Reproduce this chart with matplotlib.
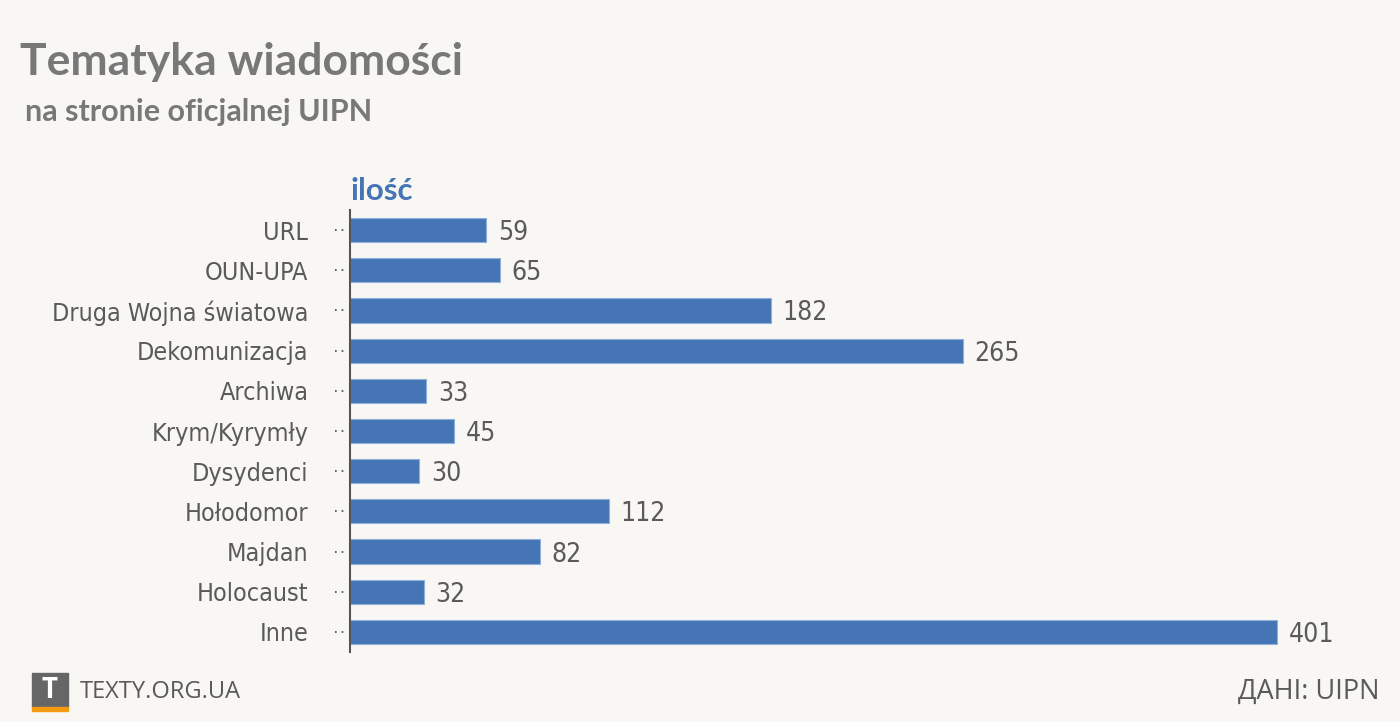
import matplotlib.pyplot as plt
from matplotlib.patches import Rectangle
from matplotlib import font_manager

categories = ['URL', 'OUN-UPA', 'Druga Wojna światowa', 'Dekomunizacja', 'Archiwa',
              'Krym/Kyrymły', 'Dysydenci', 'Hołodomor', 'Majdan', 'Holocaust', 'Inne']
values = [59, 65, 182, 265, 33, 45, 30, 112, 82, 32, 401]

bg = '#f8f7f4'
bar_color = '#4575b5'
text_grey = '#5a5a5a'

# condensed face for the category names and numbers
narrow_fp = font_manager.FontProperties(family='DejaVu Sans', stretch='condensed', size=18)

fig = plt.figure(figsize=(14, 7.22), dpi=100, facecolor=bg)

# title block
fig.text(20 / 1400, 1 - 62 / 722, 'Tematyka wiadomości', fontsize=32, fontweight='bold',
         color='#787878', family=['Lato', 'DejaVu Sans'], va='center', ha='left')
fig.text(25 / 1400, 1 - 112 / 722, 'na stronie oficjalnej UIPN', fontsize=22, fontweight='bold',
         color='#787878', family=['Lato', 'DejaVu Sans'], va='center', ha='left')

ax = fig.add_axes([350 / 1400, 70 / 722, 1030 / 1400, 442 / 722])
ax.set_facecolor(bg)
y = range(len(categories))
ax.barh(y, values, height=0.6, color=bar_color, edgecolor='#8fb0da', linewidth=0.8)
ax.set_xlim(0, 1030 / 2.312)
ax.set_ylim(len(categories) - 0.5, -0.5)

for i, v in enumerate(values):
    ax.text(v + 5, i, str(v), va='center_baseline', ha='left',
            color=text_grey, fontproperties=narrow_fp, fontsize=19)

ax.set_yticks(list(y))
ax.set_yticklabels(categories, color=text_grey, fontproperties=narrow_fp)
ax.tick_params(axis='y', length=0, pad=30)
ax.set_xticks([])
for s in ['top', 'right', 'bottom']:
    ax.spines[s].set_visible(False)
ax.spines['left'].set_color('#555555')
ax.spines['left'].set_linewidth(1.5)

# small dotted leaders next to the axis
for i in y:
    ax.plot([-6.5, -2], [i, i], linestyle=(0, (1, 3)), color='#444444', lw=1.2,
            clip_on=False)

ax.text(0, -0.98, 'ilość', fontsize=22.5, fontweight='bold', color=bar_color,
        family=['Lato', 'DejaVu Sans'], ha='left', va='center')

# footer
fig.patches.append(Rectangle((32 / 1400, 1 - 707 / 722), 36 / 1400, 34 / 722,
                             transform=fig.transFigure, color='#666666'))
fig.patches.append(Rectangle((32 / 1400, 1 - 711 / 722), 36 / 1400, 4 / 722,
                             transform=fig.transFigure, color='#f39c12'))
fig.text(50 / 1400, 1 - 690 / 722, 'T', fontsize=20, fontweight='bold', color='white',
         family=['Open Sans', 'DejaVu Sans'], ha='center', va='center')
fig.text(80 / 1400, 1 - 692 / 722, 'TEXTY.ORG.UA', fontsize=17, color=text_grey,
         family=['Open Sans', 'DejaVu Sans'], ha='left', va='center')
fig.text(1380 / 1400, 1 - 692 / 722, 'ДАНІ: UIPN', fontsize=19.5, color=text_grey,
         family=['Open Sans', 'DejaVu Sans'], ha='right', va='center')

fig.savefig('out.png', dpi=100, facecolor=bg)
